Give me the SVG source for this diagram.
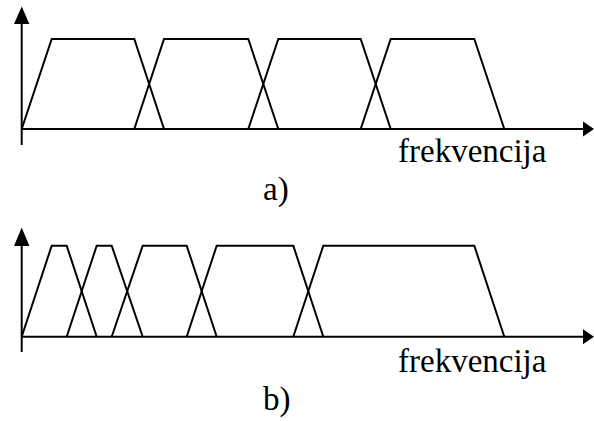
<svg xmlns="http://www.w3.org/2000/svg" width="594" height="421" viewBox="0 0 594 421">
<style>
.ax{stroke:#000;stroke-width:2;fill:none}
.mf{stroke:#000;stroke-width:2;fill:none;stroke-linejoin:miter}
.ah{fill:#000;stroke:none}
.t{font-family:'Liberation Serif','Times New Roman',Times,serif;font-size:33px;fill:#000}
</style>
<rect width="594" height="421" fill="#fff"/>
<g id="connectors">
<line class="ax" x1="21.7" y1="145" x2="21.7" y2="22"/>
<polygon class="ah" points="21.7,6.5 14,24 29.4,24"/>
<line class="ax" x1="21.7" y1="129" x2="585" y2="129"/>
<polygon class="ah" points="594,129 583,121.5 583,136.5"/>
<line class="ax" x1="21.7" y1="352" x2="21.7" y2="244"/>
<polygon class="ah" points="21.7,227.5 14,246 29.4,246"/>
<line class="ax" x1="21.7" y1="336.7" x2="585" y2="336.7"/>
<polygon class="ah" points="594,336.7 583,329.2 583,344.2"/>
</g>
<g id="panel-a">
<polyline id="a1" class="mf" points="21.7,129 51.7,39 134.3,39 164,129"/>
<polyline id="a2" class="mf" points="134.3,129 164,39 248.3,39 278.3,129"/>
<polyline id="a3" class="mf" points="248.3,129 278.3,39 360.7,39 390.7,129"/>
<polyline id="a4" class="mf" points="360.7,129 390.7,39 474.3,39 504.3,129"/>
<text id="a-xlabel" class="t" x="398" y="162">frekvencija</text>
<text id="a-caption" class="t" x="263" y="200">a)</text>
</g>
<g id="panel-b">
<polyline id="b1" class="mf" points="21.7,336.7 51.7,245.7 66.7,245.7 96.7,336.7"/>
<polyline id="b2" class="mf" points="66.7,336.7 96.7,245.7 111.7,245.7 142.7,336.7"/>
<polyline id="b3" class="mf" points="111.7,336.7 142.7,245.7 186.7,245.7 216.7,336.7"/>
<polyline id="b4" class="mf" points="186.7,336.7 216.7,245.7 293.3,245.7 323.3,336.7"/>
<polyline id="b5" class="mf" points="293.3,336.7 323.3,245.7 474.3,245.7 504.3,336.7"/>
<text id="b-xlabel" class="t" x="398" y="372">frekvencija</text>
<text id="b-caption" class="t" x="263" y="410">b)</text>
</g>
</svg>
